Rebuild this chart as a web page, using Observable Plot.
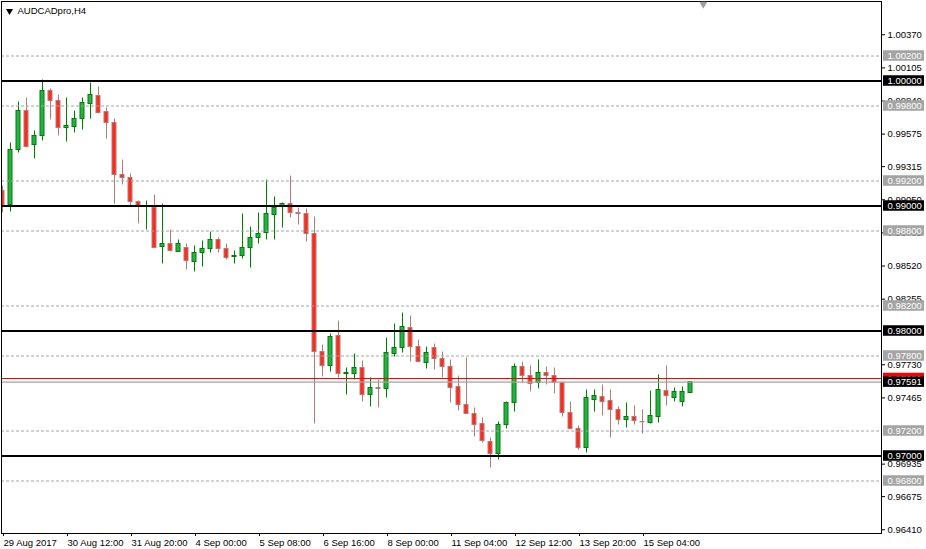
<!DOCTYPE html>
<html>
<head>
<meta charset="utf-8">
<script src="https://cdn.jsdelivr.net/npm/d3@7"></script>
<script src="https://cdn.jsdelivr.net/npm/@observablehq/plot@0.6"></script>
<style>
  html, body { margin: 0; padding: 0; background: #fff; }
  #chart { width: 926px; height: 549px; overflow: hidden; }
</style>
</head>
<body>
<div id="chart"></div>
<script>
// ---- Data (AUDCADpro, H4) ----
const symbolTitle = "AUDCADpro,H4";

const openP = [0.99120,0.99008,0.99448,0.99760,0.99488,0.99560,0.99920,0.99840,0.99624,0.99632,
0.99696,0.99816,0.99880,0.99752,0.99664,0.99248,0.99224,0.99032,0.98992,0.98984,
0.98672,0.98696,0.98632,0.98664,0.98552,0.98624,0.98656,0.98728,0.98656,0.98592,
0.98600,0.98664,0.98744,0.98784,0.98928,0.99000,0.99016,0.98944,0.98936,0.98776,
0.97832,0.97720,0.97960,0.97656,0.97656,0.97704,0.97488,0.97544,0.97536,0.97816,
0.97864,0.98024,0.97872,0.97744,0.97864,0.97776,0.97712,0.97552,0.97408,0.97336,
0.97256,0.97112,0.97016,0.97248,0.97424,0.97712,0.97640,0.97584,0.97664,0.97640,
0.97584,0.97344,0.97216,0.97064,0.97448,0.97472,0.97440,0.97368,0.97288,0.97312,
0.97272,0.97264,0.97312,0.97520,0.97464,0.97432,0.97504];

const closeP = [0.99000,0.99448,0.99760,0.99472,0.99560,0.99920,0.99840,0.99624,0.99640,0.99696,
0.99824,0.99888,0.99744,0.99664,0.99248,0.99224,0.99032,0.99000,0.99000,0.98664,
0.98696,0.98640,0.98696,0.98560,0.98624,0.98656,0.98728,0.98656,0.98584,0.98600,
0.98664,0.98744,0.98776,0.98936,0.98984,0.99016,0.98944,0.98936,0.98776,0.97832,
0.97720,0.97952,0.97656,0.97664,0.97704,0.97488,0.97544,0.97536,0.97824,0.97864,
0.98032,0.97872,0.97752,0.97824,0.97776,0.97712,0.97544,0.97408,0.97336,0.97248,
0.97120,0.97016,0.97248,0.97424,0.97712,0.97640,0.97576,0.97664,0.97640,0.97584,
0.97344,0.97216,0.97064,0.97464,0.97480,0.97432,0.97368,0.97288,0.97312,0.97280,
0.97270,0.97320,0.97528,0.97480,0.97512,0.97512,0.97591];

const highP = [0.99160,0.99504,0.99832,0.99864,0.99600,1.00008,0.99936,0.99888,0.99864,0.99760,
0.99864,0.99984,0.99952,0.99784,0.99696,0.99368,0.99256,0.99040,0.99040,0.99088,
0.99016,0.98808,0.98728,0.98696,0.98680,0.98720,0.98792,0.98744,0.98696,0.98640,
0.98936,0.98832,0.98944,0.99208,0.99072,0.99024,0.99240,0.98984,0.98976,0.98912,
0.97888,0.97976,0.98080,0.97704,0.97816,0.97760,0.97624,0.97608,0.97944,0.98056,
0.98144,0.98120,0.97928,0.97872,0.97896,0.97832,0.97768,0.97640,0.97784,0.97384,
0.97304,0.97144,0.97272,0.97432,0.97736,0.97752,0.97720,0.97768,0.97712,0.97704,
0.97592,0.97432,0.97240,0.97528,0.97528,0.97568,0.97528,0.97392,0.97424,0.97400,
0.97368,0.97520,0.97648,0.97720,0.97544,0.97552,0.97591];

const lowP = [0.98944,0.98952,0.99424,0.99464,0.99376,0.99520,0.99688,0.99560,0.99512,0.99584,
0.99608,0.99696,0.99736,0.99536,0.99016,0.99168,0.99000,0.98856,0.98808,0.98664,
0.98536,0.98632,0.98632,0.98488,0.98472,0.98512,0.98624,0.98624,0.98568,0.98536,
0.98576,0.98504,0.98696,0.98728,0.98728,0.98824,0.98904,0.98848,0.98712,0.97256,
0.97632,0.97672,0.97624,0.97488,0.97608,0.97432,0.97392,0.97384,0.97464,0.97792,
0.97824,0.97752,0.97752,0.97696,0.97688,0.97624,0.97424,0.97360,0.97336,0.97152,
0.97104,0.96904,0.96968,0.97216,0.97352,0.97584,0.97512,0.97536,0.97568,0.97496,
0.97312,0.97216,0.97048,0.97024,0.97352,0.97320,0.97144,0.97248,0.97224,0.97248,
0.97176,0.97256,0.97264,0.97400,0.97432,0.97392,0.97504];

// time axis: one label every 8 H4 bars
const timeTickBars = [0, 8, 16, 24, 32, 40, 48, 56, 64, 72, 80];
const timeTickLabels = ["29 Aug 2017","30 Aug 12:00","31 Aug 20:00","4 Sep 00:00","5 Sep 08:00",
  "6 Sep 16:00","8 Sep 00:00","11 Sep 04:00","12 Sep 12:00","13 Sep 20:00","15 Sep 04:00"];

// price axis ticks (those fully hidden under level labels are left out)
const priceTicks = [1.00370,1.00105,0.99840,0.99575,0.99315,0.99050,0.98785,0.98520,
  0.98255,0.97730,0.97465,0.96935,0.96675,0.96410];

// horizontal levels
const majorLevels = [1.00000, 0.99000, 0.98000, 0.97000];
const minorLevels = [1.00200, 0.99800, 0.99200, 0.98800, 0.98200, 0.97800, 0.97200, 0.96800];
const askPrice = 0.97620;
const bidPrice = 0.97591;
const chartShiftBar = 87.6;

// ---- Build ----
const bars = openP.map((o, i) => ({
  i, open: o, close: closeP[i], high: highP[i], low: lowP[i], bull: closeP[i] > o
}));

const xDomain = [-0.125, 109.875];   // 8 px per bar
const yDomain = [0.96380, 1.00636];
const xMax = xDomain[1];

const BULL_FILL = "#26b04a", BULL_LINE = "#008000";
const BEAR_FILL = "#ff2a1a", BEAR_LINE = "#b07c7a";
const GRAY = "#a4a4a4";

const minorObj = minorLevels.map(p => ({p}));
const majorObj = majorLevels.map(p => ({p}));
const askObj = [{p: askPrice}];
const bidObj = [{p: bidPrice}];
const half = 0.00042;

function boxes(data, fill) {
  return Plot.rect(data, {x1: xMax + 0.25, x2: xMax + 5.375, y1: d => d.p + half, y2: d => d.p - half, fill, stroke: null});
}
function boxText(data, fill) {
  return Plot.text(data, {x: xMax, y: "p", text: d => d.p.toFixed(5), dx: 6, textAnchor: "start", fill, fontSize: 9.5});
}

const chart = Plot.plot({
  width: 926,
  height: 549,
  marginLeft: 1,
  marginRight: 45,
  marginTop: 1,
  marginBottom: 16,
  x: {domain: xDomain, axis: null, label: null},
  y: {domain: yDomain, axis: null, label: null},
  color: {type: "identity"},
  style: {fontFamily: "'Liberation Sans', Arial, sans-serif", fontSize: "9.5px", background: "#fff", color: "#000", overflow: "visible"},
  marks: [
    Plot.axisY({anchor: "right", label: null, ticks: priceTicks, tickFormat: d => d.toFixed(5), tickSize: 3, tickPadding: 3, fontSize: 9.5, stroke: "#000", fill: "#000"}),
    Plot.axisX({anchor: "bottom", label: null, ticks: timeTickBars, tickFormat: d => timeTickLabels[timeTickBars.indexOf(d)], tickSize: 3, tickPadding: 3, textAnchor: "start", dx: 1, fontSize: 9.5, stroke: "#000", fill: "#000"}),
    // candles
    Plot.ruleX(bars, {x: "i", y1: "low", y2: "high", stroke: d => d.bull ? BULL_LINE : BEAR_LINE, strokeWidth: 1, clip: true}),
    Plot.rect(bars, {x1: d => d.i - 0.25, x2: d => d.i + 0.25, y1: "open", y2: "close",
      fill: d => d.bull ? BULL_FILL : BEAR_FILL, stroke: d => d.bull ? BULL_LINE : BEAR_LINE, strokeWidth: 1, clip: true}),
    // levels
    Plot.ruleY(minorObj, {y: "p", stroke: GRAY, strokeWidth: 1, strokeDasharray: "3,2"}),
    Plot.ruleY(majorObj, {y: "p", stroke: "#000", strokeWidth: 2}),
    Plot.ruleY(askObj, {y: "p", stroke: "#ff0000", strokeWidth: 1}),
    Plot.ruleY(bidObj, {y: "p", stroke: GRAY, strokeWidth: 1.3}),
    Plot.frame({stroke: "#000", strokeWidth: 1}),
    // right-side level labels
    boxes(minorObj, GRAY), boxText(minorObj, "#fff"),
    boxes(majorObj, "#000"), boxText(majorObj, "#fff"),
    boxes(askObj, "#ff0000"), boxText(askObj, "#fff"),
    boxes(bidObj, "#000"), boxText(bidObj, "#fff"),
    // title
    Plot.dot([0], {frameAnchor: "top-left", dx: 8, dy: 9.5, symbol: "triangle", rotate: 180, r: 2.6, fill: "#000", stroke: null}),
    Plot.text([symbolTitle], {frameAnchor: "top-left", dx: 16, dy: 9.5, textAnchor: "start", lineAnchor: "middle", fill: "#000", fontSize: 9.5}),
    // chart shift marker
    Plot.dot([chartShiftBar], {x: d => d, frameAnchor: "top", dy: 2.5, symbol: "triangle", rotate: 180, r: 3, fill: "#a0a0a0", stroke: null})
  ]
});
document.getElementById("chart").appendChild(chart);
</script>
</body>
</html>
